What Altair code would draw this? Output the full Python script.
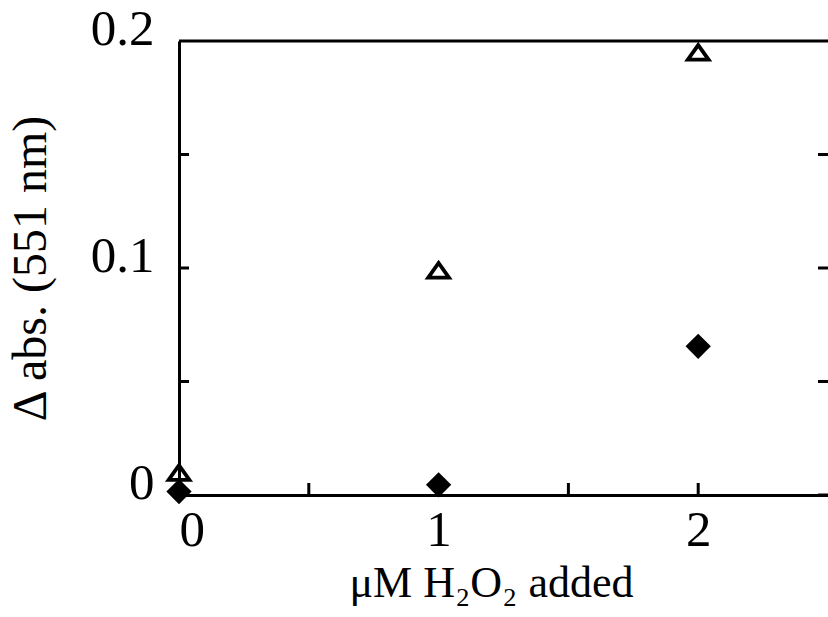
import altair as alt
import pandas as pd

# data
h2o2 = [0, 1, 2]
open_tri = [0.0099, 0.099, 0.195]
filled_dia = [0.0015, 0.0045, 0.0655]

x_ticks = [0.5, 1, 1.5, 2]
y_ticks_left = [0.05, 0.1, 0.15]
y_ticks_right = [0, 0.05, 0.1, 0.15]
x_labels = [0, 1, 2]
y_labels = [0, 0.1, 0.2]

W, H = 649, 454
FONT = "Liberation Serif"
LW = 3

xs = alt.Scale(domain=[0, 2.5], nice=False, zero=False)
ys = alt.Scale(domain=[0, 0.2], nice=False, zero=False)

tri_df = pd.DataFrame({"x": h2o2, "y": open_tri})
dia_df = pd.DataFrame({"x": h2o2, "y": filled_dia})

xaxis = alt.Axis(
    values=x_labels, format="d", title="μM H₂O₂ added",
    ticks=False, grid=False, domain=True, domainColor="black", domainWidth=LW,
    labelFont=FONT, labelFontSize=51, labelColor="black", labelPadding=10,
    titleFont=FONT, titleFontSize=44, titleFontWeight="normal", titleColor="black",
    titleX=312, titleY=101, titleBaseline="alphabetic", titleAlign="center",
)
yaxis = alt.Axis(
    values=y_labels, title="Δ abs. (551 nm)",
    labelExpr="datum.value == 0 ? '0' : format(datum.value, '.1f')",
    ticks=False, grid=False, domain=True, domainColor="black", domainWidth=LW,
    labelFont=FONT, labelFontSize=51, labelColor="black", labelPadding=25,
    labelOffset=-12,
    titleFont=FONT, titleFontSize=48, titleFontWeight="normal", titleColor="black",
    titleX=-134, titleY=227, titleBaseline="alphabetic", titleAlign="center",
    titleAngle=270,
)

X = alt.X("x:Q", scale=xs, axis=xaxis)
Y = alt.Y("y:Q", scale=ys, axis=yaxis)

tri = alt.Chart(tri_df).mark_point(
    shape="M-1,0.7L0,-0.7L1,0.7Z", filled=False, stroke="black",
    strokeWidth=3.8, size=430, opacity=1,
).encode(x=X, y=Y)

dia = alt.Chart(dia_df).mark_point(
    shape="diamond", filled=True, fill="black", size=640, opacity=1,
).encode(x=X, y=Y)

ytl = alt.Chart(pd.DataFrame({"y": y_ticks_left})).mark_rule(
    color="black", strokeWidth=LW
).encode(y=Y, x=alt.value(0), x2=alt.value(10))
ytr = alt.Chart(pd.DataFrame({"y": y_ticks_right})).mark_rule(
    color="black", strokeWidth=LW
).encode(y=Y, x=alt.value(W - 10), x2=alt.value(W))
xt = alt.Chart(pd.DataFrame({"x": x_ticks})).mark_rule(
    color="black", strokeWidth=LW
).encode(x=X, y=alt.value(H), y2=alt.value(H - 12))
top = alt.Chart(pd.DataFrame({"x": [0]})).mark_rule(
    color="black", strokeWidth=LW
).encode(x=alt.value(0), x2=alt.value(W), y=alt.value(0))

chart = alt.layer(tri, dia, ytl, ytr, xt, top).properties(
    width=W, height=H,
    autosize=alt.AutoSizeParams(type="none"),
    padding={"left": 179, "top": 41, "right": 0, "bottom": 122},
    background="white",
).configure_view(stroke=None)

chart.save("out.html", embed_options={"renderer": "svg", "actions": False})
